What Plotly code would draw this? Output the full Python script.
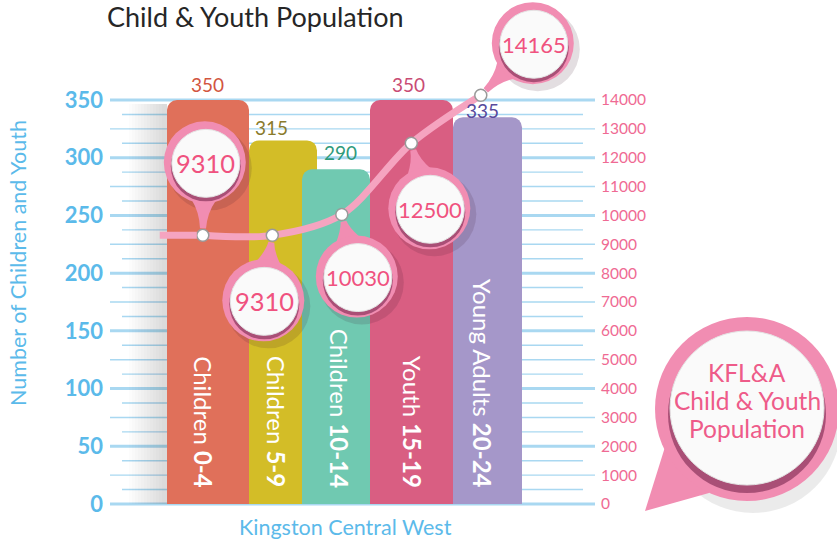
import math
import plotly.graph_objects as go

# ---------------- data ----------------
categories = ["Children 0-4", "Children 5-9", "Children 10-14", "Youth 15-19", "Young Adults 20-24"]
cat_prefix = ["Children", "Children", "Children", "Youth", "Young Adults"]
cat_ages = ["0-4", "5-9", "10-14", "15-19", "20-24"]
counts = [350, 315, 290, 350, 335]
kfla_population = [9310, 9310, 10030, 12500, 14165]
left_tick_vals = [0, 50, 100, 150, 200, 250, 300, 350]
right_tick_vals = [0, 1000, 2000, 3000, 4000, 5000, 6000, 7000, 8000, 9000, 10000, 11000, 12000, 13000, 14000]

title_text = "Child & Youth Population"
y_title = "Number of Children and Youth"
x_title = "Kingston Central West"
big_bubble_lines = ["KFL&A", "Child & Youth", "Population"]

# ---------------- styles / layout constants ----------------
W, H = 837, 542
FONT = "Lato"
PX_Y0, PX_Y350 = 504, 100          # pixel rows of 0 and 350 on the left axis
PPU = (PX_Y0 - PX_Y350) / 350.0
RIGHT_SCALE = 40                    # right axis = left axis * 40
X0_PX, STEP = 202.8, 69.5           # pixel of category 0 and category spacing

bar_colors = ["#E0705A", "#D3BD27", "#70C9B1", "#D95E82", "#A597C9"]
label_colors = ["#D2553F", "#8A7B2C", "#2F9A7C", "#C94B74", "#584A9C"]
bar_left_px = [167, 249, 302, 370, 453]
bar_right_px = [249, 317, 370, 453, 522]
label_dx = [5, -1, -1, -3, 2]
label_dy = [16, 13, 17, 16, 7]
inner_dx = [1, 5, -2, 2, 2]
bubble_dx = [2, -9, 15, 18, 52]
bubble_dy = [73, -65, -62, -65, 52]

BLUE = "#5BBAEA"
PINK_TXT = "#EF6A93"
GRID = "#A9D8F1"
RING = "#F18DB2"
LINE_PINK = "#F5A4C0"

idx = list(range(len(categories)))
y_range = [-(H - PX_Y0) / PPU, PX_Y0 / PPU]
x_range = [-X0_PX / STEP, (W - X0_PX) / STEP]

offsets = [(bar_left_px[i] - (X0_PX + STEP * i)) / STEP for i in idx]
widths = [(bar_right_px[i] - bar_left_px[i]) / STEP for i in idx]

fig = go.Figure()

fig.add_trace(go.Bar(
    x=idx, y=counts, offset=offsets, width=widths,
    marker=dict(color=bar_colors, line=dict(width=0), cornerradius=10),
    hoverinfo="skip", showlegend=False,
))

fig.add_trace(go.Scatter(
    x=idx, y=kfla_population, yaxis="y2", mode="lines+markers",
    line=dict(shape="spline", smoothing=0.9, color=LINE_PINK, width=7),
    marker=dict(size=12, color="white", line=dict(color="#9a9a9a", width=1.5)),
    hoverinfo="skip", showlegend=False,
))

shapes = []
# gridlines
v = 0.0
while v <= 350.001:
    if abs(v % 50) < 1e-6:
        x0, x1, w = 110, 595, 3
    elif abs(v % 25) < 1e-6:
        x0, x1, w = 110, 595, 1.4
    else:
        x0, x1, w = 122, 583, 1.4
    shapes.append(dict(type="line", xref="paper", yref="y", x0=x0 / W, x1=x1 / W, y0=v, y1=v,
                       line=dict(color=GRID, width=w), layer="below"))
    v += 12.5

# soft shadow left of the first bar
for k in range(12):
    shapes.append(dict(type="rect", xref="paper", yref="paper",
                       x0=(bar_left_px[0] - 38 + 3 * k) / W, x1=bar_left_px[0] / W,
                       y0=1 - PX_Y0 / H, y1=1 - (PX_Y350 + 4) / H,
                       fillcolor="rgba(90,90,90,0.02)", line=dict(width=0), layer="below"))


def f(a):
    return f"{a:.1f}"


def circ(xref, yref, xa, ya, cx, cy, r, fill, line=None):
    d = dict(type="circle", xref=xref, yref=yref, xsizemode="pixel", ysizemode="pixel",
             xanchor=xa, yanchor=ya, x0=cx - r, x1=cx + r, y0=cy - r, y1=cy + r,
             fillcolor=fill, layer="above", line=dict(width=0))
    if line:
        d["line"] = line
    return d


# left extension of the line
shapes.append(dict(type="path", xref="x", yref="y2", xsizemode="pixel", ysizemode="pixel",
                   xanchor=0, yanchor=kfla_population[0], path="M -43,0 L -6,0",
                   line=dict(color=LINE_PINK, width=7), layer="above"))

R_OUT, R_IN = 41, 34
annotations = []
for i in idx:
    dx, dy = bubble_dx[i], bubble_dy[i]
    d = math.hypot(dx, dy)
    ux, uy = dx / d, dy / d
    px_, py_ = -uy, ux

    def pt(a, b):
        return f"{f(ux * a + px_ * b)},{f(uy * a + py_ * b)}"

    path = (f"M {pt(7, -3)} Q {pt(d - 50, -4)} {pt(d - 38, -12)} L {pt(d - 20, 0)} "
            f"L {pt(d - 38, 12)} Q {pt(d - 50, 4)} {pt(7, 3)} Z")
    xa, ya = i, kfla_population[i]
    shapes.append(circ("x", "y2", xa, ya, dx + 5, dy - 6, R_OUT + 1, "rgba(60,20,40,0.14)"))
    shapes.append(dict(type="path", xref="x", yref="y2", xsizemode="pixel", ysizemode="pixel",
                       xanchor=xa, yanchor=ya, path=path, fillcolor=RING,
                       line=dict(width=0), layer="above"))
    shapes.append(circ("x", "y2", xa, ya, dx, dy, R_OUT, RING))
    shapes.append(circ("x", "y2", xa, ya, dx + 1, dy - 4, R_IN + 1, "rgba(110,30,70,0.55)"))
    shapes.append(circ("x", "y2", xa, ya, dx + 1, dy - 1, R_IN, "#FAFAFA",
                       dict(color="#E4E4E4", width=1)))
    txt = f"{kfla_population[i]}"
    annotations.append(dict(x=xa, y=ya, xref="x", yref="y2", xshift=dx + 1, yshift=dy - 1,
                            xanchor="center", yanchor="middle",
                            text=txt, showarrow=False,
                            font=dict(family=FONT, size=25.5 if len(txt) < 5 else 22, color="#F0527F")))

# big KFL&A bubble (paper anchored)
BX, BY = 747 / W, 1 - 409 / H
shapes.append(circ("paper", "paper", BX, BY, 6, -16, 88, "rgba(0,0,0,0.08)"))
shapes.append(dict(type="path", xref="paper", yref="paper", xsizemode="pixel", ysizemode="pixel",
                   xanchor=BX, yanchor=BY,
                   path="M -82,-38 L -102,-102 L -38,-84 L -30,-30 Z",
                   fillcolor=RING, line=dict(width=0), layer="above"))
shapes.append(circ("paper", "paper", BX, BY, 0, 0, 92, RING))
shapes.append(circ("paper", "paper", BX, BY, 0, -5, 79, "rgba(110,30,70,0.55)"))
shapes.append(circ("paper", "paper", BX, BY, 0, 1, 77, "#FAFAFA", dict(color="#E4E4E4", width=1)))
for k, line_txt in enumerate(big_bubble_lines):
    annotations.append(dict(x=BX, y=BY, xref="paper", yref="paper", yshift=37 - 28 * k,
                            xanchor="center", yanchor="middle", text=line_txt,
                            showarrow=False, font=dict(family=FONT, size=24.5, color="#EE5B89")))

# value labels above bars
for i in idx:
    annotations.append(dict(x=i, y=counts[i], xref="x", yref="y",
                            xshift=label_dx[i], yshift=label_dy[i],
                            text=str(counts[i]), showarrow=False,
                            xanchor="center", yanchor="middle",
                            font=dict(family=FONT, size=19, color=label_colors[i])))

# rotated category labels inside bars
for i in idx:
    annotations.append(dict(x=i, y=0, xref="x", yref="y", xshift=inner_dx[i], yshift=14,
                            yanchor="bottom", xanchor="center", textangle=90,
                            text=f"{cat_prefix[i]} <b>{cat_ages[i]}</b>", showarrow=False,
                            font=dict(family=FONT, size=24, color="white")))

# axis titles
annotations.append(dict(x=18 / W, y=1 - 263 / H, xref="paper", yref="paper", text=y_title,
                        textangle=-90, showarrow=False, xanchor="center", yanchor="middle",
                        font=dict(family=FONT, size=21.5, color=BLUE)))
annotations.append(dict(x=345 / W, y=1 - 527 / H, xref="paper", yref="paper", text=x_title,
                        showarrow=False, xanchor="center", yanchor="middle",
                        font=dict(family=FONT, size=21.5, color=BLUE)))

fig.update_layout(
    template="none",
    width=W, height=H,
    margin=dict(l=0, r=0, t=0, b=0),
    paper_bgcolor="white", plot_bgcolor="white",
    barmode="overlay",
    showlegend=False,
    title=dict(text=title_text, x=107 / W, xanchor="left", y=1 - 18 / H, yanchor="middle",
               font=dict(family=FONT, size=27, color="#262626")),
    xaxis=dict(range=x_range, visible=False, fixedrange=True, automargin=False),
    yaxis=dict(range=y_range, tickvals=left_tick_vals, anchor="free", position=103 / W,
               side="left", showgrid=False, zeroline=False, showline=False, ticks="",
               automargin=False, fixedrange=True,
               tickfont=dict(family=FONT, size=22, color=BLUE, weight="bold")),
    yaxis2=dict(range=[y_range[0] * RIGHT_SCALE, y_range[1] * RIGHT_SCALE],
                tickvals=right_tick_vals, tickformat="d", overlaying="y", anchor="free",
                position=600 / W, fixedrange=True,
                side="right", showgrid=False, zeroline=False, showline=False, ticks="",
                automargin=False,
                tickfont=dict(family=FONT, size=15.5, color=PINK_TXT)),
    shapes=shapes,
    annotations=annotations,
)

fig.write_html("out.html", config={"displayModeBar": False},
               post_script="document.body.style.margin='0';document.body.style.overflow='hidden';")
